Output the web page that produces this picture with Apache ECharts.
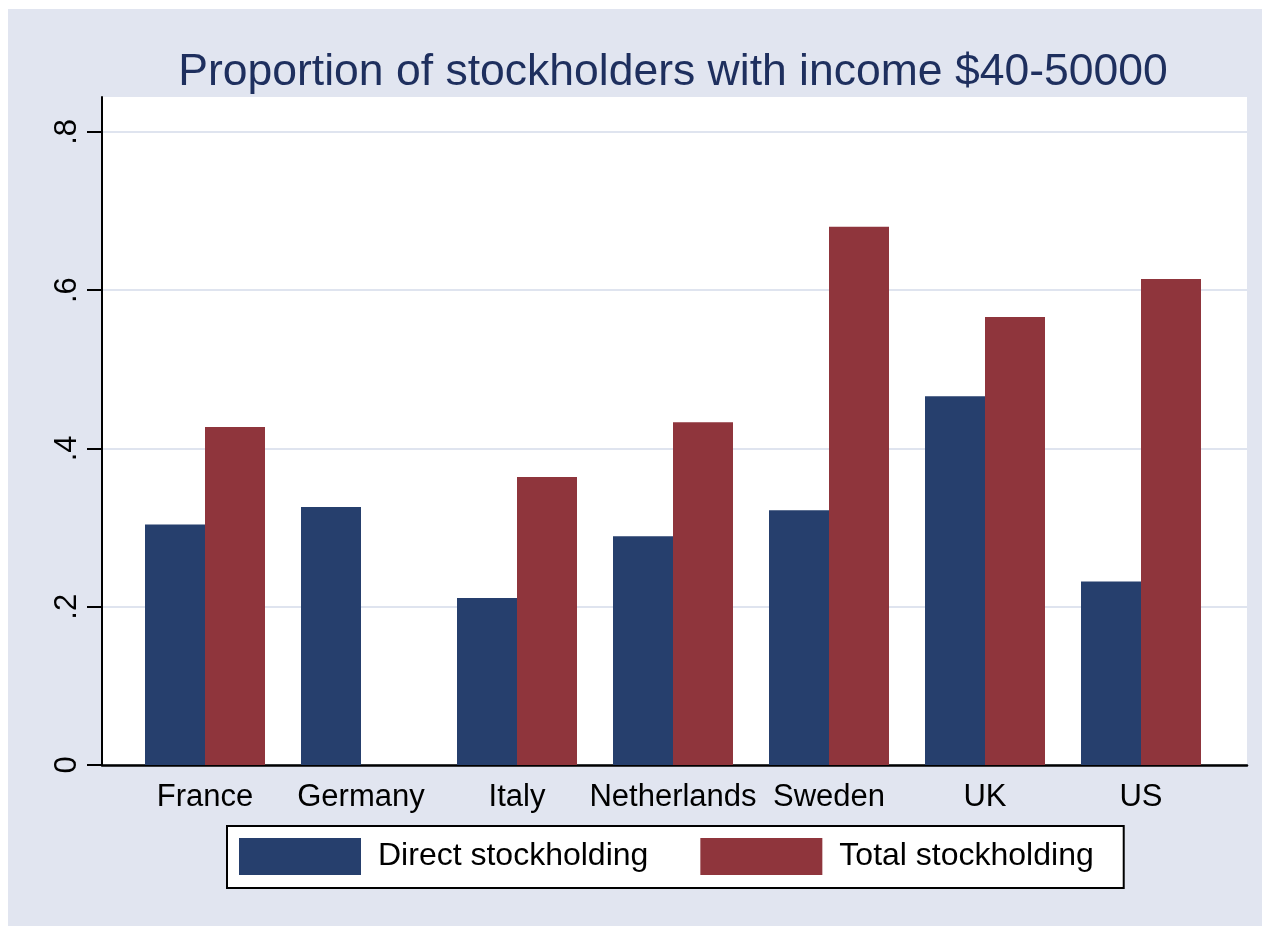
<!DOCTYPE html>
<html>
<head>
<meta charset="utf-8">
<script src="https://cdn.jsdelivr.net/npm/echarts@6/dist/echarts.min.js"></script>
<style>
  html, body { margin: 0; padding: 0; background: #ffffff; }
  #chart { position: absolute; left: 8px; top: 9px; width: 1254px; height: 917px; }
</style>
</head>
<body>
<div id="chart"></div>
<script>
// data
const countries = ['France', 'Germany', 'Italy', 'Netherlands', 'Sweden', 'UK', 'US']
const direct = [0.304, 0.326, 0.211, 0.289, 0.322, 0.466, 0.232]
const total = [0.427, null, 0.364, 0.433, 0.680, 0.566, 0.614]
const yTicks = [0, 0.2, 0.4, 0.6, 0.8]

const font = '"Liberation Sans", Arial, sans-serif'
const navy = '#263f6d'
const maroon = '#8f353c'

const chart = echarts.init(document.getElementById('chart'))
chart.setOption({
  backgroundColor: '#e1e5f0',
  animation: false,
  title: {
    text: 'Proportion of stockholders with income $40-50000',
    left: 660,
    top: 36,
    textAlign: 'center',
    textStyle: { fontFamily: font, fontSize: 44.5, fontWeight: 'normal', color: '#1e2f5e' }
  },
  legend: {
    left: 219,
    top: 817,
    orient: 'horizontal',
    backgroundColor: '#ffffff',
    borderColor: '#000000',
    borderWidth: 2,
    borderRadius: 0,
    padding: [12, 30, 13, 12],
    itemWidth: 122,
    itemHeight: 37,
    itemGap: 52,
    icon: 'rect',
    textStyle: { fontFamily: font, fontSize: 32, color: '#000', padding: [4, 0, 0, 12] },
    data: ['Direct stockholding', 'Total stockholding']
  },
  grid: [
    { left: 94, right: 15, top: 88, bottom: 161, show: true, backgroundColor: '#ffffff', borderWidth: 0 },
    { left: 119, right: 43, top: 88, bottom: 161 }
  ],
  xAxis: [
    {
      gridIndex: 0,
      type: 'category',
      data: [''],
      axisLine: { show: true, lineStyle: { color: '#000', width: 2.5 } },
      axisTick: { show: false },
      axisLabel: { show: false }
    },
    {
      gridIndex: 1,
      type: 'category',
      data: countries,
      axisLine: { show: false },
      axisTick: { show: false },
      axisLabel: { interval: 0, fontFamily: font, fontSize: 31, color: '#000', margin: 17 }
    }
  ],
  yAxis: [
    {
      gridIndex: 0,
      type: 'value',
      min: 0,
      max: 0.844,
      interval: 0.2,
      axisLine: { show: true, lineStyle: { color: '#000', width: 2 } },
      axisTick: { show: true, length: 15, lineStyle: { color: '#000', width: 2 }, customValues: yTicks },
      axisLabel: {
        customValues: yTicks,
        rotate: 90,
        margin: 19,
        fontFamily: font,
        fontSize: 31,
        color: '#000',
        formatter: v => (v === 0 ? '0' : String(Math.round(v * 10) / 10).replace('0.', '.'))
      },
      splitLine: { show: true, lineStyle: { color: '#dfe4ef', width: 2 } }
    },
    {
      gridIndex: 1,
      type: 'value',
      min: 0,
      max: 0.844,
      show: false,
      splitLine: { show: false }
    }
  ],
  series: [
    {
      name: 'Direct stockholding',
      type: 'bar',
      xAxisIndex: 1,
      yAxisIndex: 1,
      data: direct,
      barWidth: 60,
      barGap: 0,
      itemStyle: { color: navy }
    },
    {
      name: 'Total stockholding',
      type: 'bar',
      xAxisIndex: 1,
      yAxisIndex: 1,
      data: total,
      barWidth: 60,
      barGap: 0,
      itemStyle: { color: maroon }
    }
  ]
})
</script>
</body>
</html>
